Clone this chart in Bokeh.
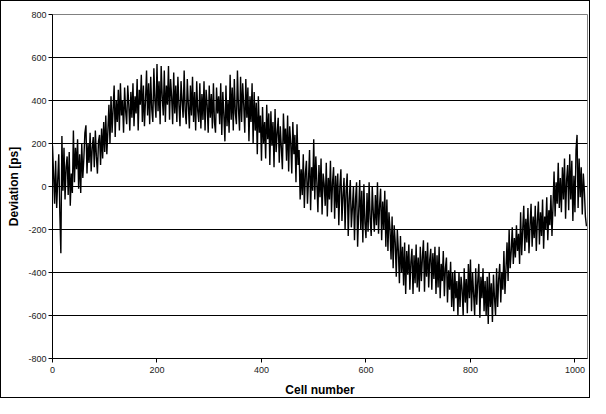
from bokeh.plotting import figure
from bokeh.models import Range1d, FixedTicker, ColumnDataSource
from bokeh.embed import file_html
from bokeh.resources import INLINE

step = 2
deviation = [
    190, 60, -80, 120, -100, 30, 150, -120, -310, 235, -20, 180, -60, 90, 140, -40,
    160, -90, 60, -30, 260, 20, 180, 80, 220, -10, 150, -30, 200, 40, 130, 250,
    285, 60, 200, 110, 250, 70, 180, 230, 90, 260, 140, 60, 210, 240, 100, 270,
    130, 300, 160, 330, 150, 260, 380, 200, 420, 250, 360, 470, 230, 400, 300, 450,
    260, 480, 330, 400, 250, 460, 350, 290, 470, 380, 260, 440, 320, 480, 280, 420,
    340, 500, 260, 450, 380, 520, 300, 470, 280, 400, 540, 330, 480, 290, 510, 360,
    300, 550, 400, 320, 570, 350, 490, 290, 560, 420, 330, 540, 300, 470, 380, 560,
    310, 500, 420, 290, 530, 340, 470, 300, 510, 380, 280, 490, 400, 320, 540, 350,
    290, 500, 380, 270, 470, 330, 510, 300, 440, 260, 490, 350, 300, 480, 270, 430,
    310, 490, 260, 450, 380, 250, 470, 320, 430, 270, 480, 300, 250, 460, 340, 420,
    290, 480, 240, 440, 330, 210, 470, 280, 400, 250, 520, 310, 460, 260, 500, 340,
    290, 540, 360, 260, 510, 300, 480, 380, 250, 500, 320, 460, 210, 420, 300, 480,
    200, 440, 260, 390, 150, 420, 250, 330, 120, 370, 200, 300, 130, 380, 220, 340,
    100, 350, 190, 300, 90, 360, 160, 250, 320, 110, 280, 180, 80, 340, 200, 270,
    120, 330, 70, 280, 200, 60, 300, 150, 240, 20, 290, 100, 170, -60, 80, -40,
    150, -100, 60, 120, -80, 30, 170, -110, 90, -20, 220, -60, 140, 20, -120, 100,
    -50, 130, -130, 60, 10, -90, 110, -140, 40, -60, 120, -120, 20, 90, -150, 50,
    -100, 60, -180, 0, 80, -160, -40, 40, -200, -20, 60, -230, -60, 30, -190, -100,
    0, -250, -60, 20, -280, -120, 30, -200, -20, -260, 10, -170, -240, -30, -210, 20,
    -150, -230, 0, -120, -210, -40, -180, 20, -220, -90, -10, -250, -70, -200, -20, -280,
    -60, -300, -120, -200, -340, -140, -380, -180, -260, -420, -200, -300, -450, -230, -400, -280,
    -460, -260, -500, -300, -410, -270, -480, -350, -290, -500, -320, -450, -270, -470, -330, -490,
    -280, -440, -330, -250, -490, -300, -420, -260, -470, -340, -290, -480, -310, -430, -280, -500,
    -320, -470, -280, -520, -360, -440, -300, -510, -380, -330, -540, -390, -480, -350, -560, -400,
    -580, -390, -520, -440, -600, -400, -560, -420, -480, -600, -380, -540, -430, -590, -360, -520,
    -340, -580, -400, -500, -600, -380, -550, -440, -360, -610, -420, -520, -380, -580, -440, -600,
    -420, -640, -400, -560, -450, -630, -410, -520, -600, -380, -560, -430, -360, -540, -400, -480,
    -300, -500, -380, -260, -440, -200, -380, -300, -190, -360, -240, -330, -180, -300, -220, -360,
    -120, -320, -200, -90, -300, -150, -260, -100, -310, -180, -80, -280, -140, -240, -90, -300,
    -160, -70, -270, -120, -230, -60, -290, -140, -200, -50, -250, -110, -180, -40, -230, -90,
    70, -140, 20, -80, 110, -100, 40, -120, 90, -60, 130, -150, 30, 100, -110, 150,
    -60, 120, -160, 50, -120, 170, 240, -100, 130, -50, 90, -130, 60, -20, -140, -185,
]
cells = [i * step for i in range(len(deviation))]

x_ticks = [0, 200, 400, 600, 800, 1000]
y_ticks = [-800, -600, -400, -200, 0, 200, 400, 600, 800]

source = ColumnDataSource(data=dict(cell=cells, dev=deviation))

p = figure(width=590, height=398, output_backend="svg", toolbar_location=None,
           x_range=Range1d(0, 1024), y_range=Range1d(-800, 800),
           min_border_left=51, min_border_right=4, min_border_top=13, min_border_bottom=38)
p.styles = {"border": "1px solid #000000", "box-sizing": "border-box"}
p.background_fill_color = "white"
p.border_fill_color = "white"
p.outline_line_color = "#808080"
p.outline_line_width = 1

p.line("cell", "dev", source=source, line_color="black", line_width=1.4)

p.xgrid.visible = False
p.ygrid.grid_line_color = "black"
p.ygrid.grid_line_width = 1
p.ygrid.ticker = FixedTicker(ticks=y_ticks)

for ax in (p.xaxis[0], p.yaxis[0]):
    ax.axis_line_color = "black"
    ax.axis_line_width = 1
    ax.major_tick_line_color = "black"
    ax.major_tick_in = 0
    ax.major_tick_out = 4
    ax.minor_tick_line_color = None
    ax.major_label_text_font = "Liberation Sans"
    ax.major_label_text_font_size = "9px"
    ax.major_label_text_color = "#222222"
    ax.axis_label_text_font = "Liberation Sans"
    ax.axis_label_text_font_style = "bold"
    ax.axis_label_text_font_size = "12px"
    ax.axis_label_text_color = "black"

p.xaxis[0].ticker = FixedTicker(ticks=x_ticks)
p.yaxis[0].ticker = FixedTicker(ticks=y_ticks)
p.xaxis[0].major_label_overrides = {t: str(t) for t in x_ticks}
p.yaxis[0].major_label_overrides = {t: str(t) for t in y_ticks}
p.xaxis[0].axis_label = "Cell number"
p.yaxis[0].axis_label = "Deviation [ps]"
p.xaxis[0].major_label_standoff = 4
p.yaxis[0].major_label_standoff = 2
p.xaxis[0].axis_label_standoff = 7
p.yaxis[0].axis_label_standoff = 4

open("out.html", "w").write(file_html(p, INLINE))
